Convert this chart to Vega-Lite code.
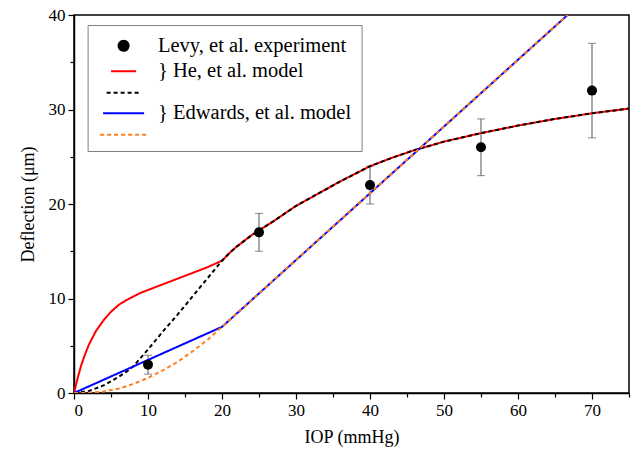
{
  "$schema": "https://vega.github.io/schema/vega-lite/v6.json",
  "autosize": "none",
  "width": 555,
  "height": 378,
  "padding": {"left": 74, "top": 15, "right": 9, "bottom": 57},
  "background": "white",
  "config": {
    "view": {"stroke": "black", "strokeWidth": 1.5},
    "font": "Times New Roman, Liberation Serif, DejaVu Serif, serif",
    "axis": {
      "domainColor": "black", "domainWidth": 1.5, "tickColor": "black", "tickWidth": 1.2,
      "labelFont": "Times New Roman, Liberation Serif, DejaVu Serif, serif", "labelFontSize": 17, "labelColor": "black",
      "titleFont": "Times New Roman, Liberation Serif, DejaVu Serif, serif", "titleFontSize": 18, "titleFontWeight": "normal", "titleColor": "black",
      "grid": false
    },
    "style": {"guide-label": {"font": "Times New Roman, Liberation Serif, DejaVu Serif, serif"}, "guide-title": {"font": "Times New Roman, Liberation Serif, DejaVu Serif, serif"}}
  },
  "datasets": {
    "lines": [
      {"s": "He_solid", "x": 0, "y": 0}, {"s": "He_solid", "x": 0.5, "y": 1.6}, {"s": "He_solid", "x": 1, "y": 3.0},
      {"s": "He_solid", "x": 1.5, "y": 4.1}, {"s": "He_solid", "x": 2, "y": 5.1}, {"s": "He_solid", "x": 3, "y": 6.6},
      {"s": "He_solid", "x": 4, "y": 7.7}, {"s": "He_solid", "x": 5, "y": 8.6}, {"s": "He_solid", "x": 6, "y": 9.3},
      {"s": "He_solid", "x": 7, "y": 9.8}, {"s": "He_solid", "x": 8, "y": 10.2}, {"s": "He_solid", "x": 9, "y": 10.6},
      {"s": "He_solid", "x": 10, "y": 10.9}, {"s": "He_solid", "x": 11, "y": 11.2}, {"s": "He_solid", "x": 12, "y": 11.5},
      {"s": "He_solid", "x": 14, "y": 12.1}, {"s": "He_solid", "x": 16, "y": 12.7}, {"s": "He_solid", "x": 18, "y": 13.3},
      {"s": "He_solid", "x": 20, "y": 14.0}, {"s": "He_solid", "x": 21, "y": 14.8}, {"s": "He_solid", "x": 22, "y": 15.5},
      {"s": "He_solid", "x": 23, "y": 16.1}, {"s": "He_solid", "x": 24, "y": 16.7}, {"s": "He_solid", "x": 25, "y": 17.2},
      {"s": "He_solid", "x": 27, "y": 18.2}, {"s": "He_solid", "x": 30, "y": 19.8}, {"s": "He_solid", "x": 33, "y": 21.1},
      {"s": "He_solid", "x": 36, "y": 22.4}, {"s": "He_solid", "x": 40, "y": 24.0}, {"s": "He_solid", "x": 43, "y": 24.9},
      {"s": "He_solid", "x": 46, "y": 25.7}, {"s": "He_solid", "x": 50, "y": 26.6}, {"s": "He_solid", "x": 55, "y": 27.5},
      {"s": "He_solid", "x": 60, "y": 28.3}, {"s": "He_solid", "x": 65, "y": 29.0}, {"s": "He_solid", "x": 70, "y": 29.6},
      {"s": "He_solid", "x": 75, "y": 30.1},
      {"s": "He_dashed", "x": 0, "y": 0}, {"s": "He_dashed", "x": 2, "y": 0.2}, {"s": "He_dashed", "x": 4, "y": 0.8},
      {"s": "He_dashed", "x": 6, "y": 1.7}, {"s": "He_dashed", "x": 7, "y": 2.2}, {"s": "He_dashed", "x": 8, "y": 2.8},
      {"s": "He_dashed", "x": 10, "y": 4.6}, {"s": "He_dashed", "x": 12, "y": 6.5}, {"s": "He_dashed", "x": 14, "y": 8.3},
      {"s": "He_dashed", "x": 16, "y": 10.2}, {"s": "He_dashed", "x": 18, "y": 12.1}, {"s": "He_dashed", "x": 20, "y": 14.0},
      {"s": "He_dashed", "x": 21, "y": 14.8}, {"s": "He_dashed", "x": 22, "y": 15.5}, {"s": "He_dashed", "x": 23, "y": 16.1},
      {"s": "He_dashed", "x": 24, "y": 16.7}, {"s": "He_dashed", "x": 25, "y": 17.2}, {"s": "He_dashed", "x": 27, "y": 18.2},
      {"s": "He_dashed", "x": 30, "y": 19.8}, {"s": "He_dashed", "x": 33, "y": 21.1}, {"s": "He_dashed", "x": 36, "y": 22.4},
      {"s": "He_dashed", "x": 40, "y": 24.0}, {"s": "He_dashed", "x": 43, "y": 24.9}, {"s": "He_dashed", "x": 46, "y": 25.7},
      {"s": "He_dashed", "x": 50, "y": 26.6}, {"s": "He_dashed", "x": 55, "y": 27.5}, {"s": "He_dashed", "x": 60, "y": 28.3},
      {"s": "He_dashed", "x": 65, "y": 29.0}, {"s": "He_dashed", "x": 70, "y": 29.6}, {"s": "He_dashed", "x": 75, "y": 30.1},
      {"s": "Ed_solid", "x": 0, "y": 0}, {"s": "Ed_solid", "x": 20, "y": 7.0}, {"s": "Ed_solid", "x": 66.7, "y": 40},
      {"s": "Ed_dashed", "x": 0, "y": 0}, {"s": "Ed_dashed", "x": 2, "y": 0.02}, {"s": "Ed_dashed", "x": 4, "y": 0.15},
      {"s": "Ed_dashed", "x": 6, "y": 0.45}, {"s": "Ed_dashed", "x": 8, "y": 0.95}, {"s": "Ed_dashed", "x": 10, "y": 1.6},
      {"s": "Ed_dashed", "x": 12, "y": 2.4}, {"s": "Ed_dashed", "x": 14, "y": 3.3}, {"s": "Ed_dashed", "x": 16, "y": 4.4},
      {"s": "Ed_dashed", "x": 18, "y": 5.6}, {"s": "Ed_dashed", "x": 20, "y": 7.0}, {"s": "Ed_dashed", "x": 66.7, "y": 40}
    ],
    "levy": [
      {"s": "Levy", "x": 10, "y": 3, "lo": 2, "hi": 4},
      {"s": "Levy", "x": 25, "y": 17, "lo": 15, "hi": 19},
      {"s": "Levy", "x": 40, "y": 22, "lo": 20, "hi": 24},
      {"s": "Levy", "x": 55, "y": 26, "lo": 23, "hi": 29},
      {"s": "Levy", "x": 70, "y": 32, "lo": 27, "hi": 37}
    ]
  },
  "resolve": {"axis": {"x": "independent", "y": "independent"}},
  "layer": [
    {
      "data": {"name": "levy"},
      "mark": {"type": "errorbar", "ticks": {"size": 8}, "color": "#555555", "thickness": 1},
      "encoding": {
        "x": {"field": "x", "type": "quantitative", "scale": {"domain": [0, 75], "nice": false}, "axis": null},
        "y": {"field": "lo", "type": "quantitative", "scale": {"domain": [0, 40], "nice": false}, "axis": null},
        "y2": {"field": "hi"}
      }
    },
    {
      "data": {"name": "lines"},
      "mark": {"type": "line", "strokeWidth": 2, "clip": true},
      "encoding": {
        "x": {"field": "x", "type": "quantitative", "scale": {"domain": [0, 75], "nice": false}, "title": "IOP (mmHg)",
          "axis": {"orient": "bottom", "values": [0, 10, 20, 30, 40, 50, 60, 70], "tickSize": 6, "labelPadding": 3, "titlePadding": 10,
            "labelFont": "Times New Roman, Liberation Serif, DejaVu Serif, serif", "labelFontSize": 17,
            "titleFont": "Times New Roman, Liberation Serif, DejaVu Serif, serif", "titleFontSize": 18}},
        "y": {"field": "y", "type": "quantitative", "scale": {"domain": [0, 40], "nice": false}, "title": "Deflection (μm)",
          "axis": {"orient": "left", "values": [0, 10, 20, 30, 40], "tickSize": 6, "labelPadding": 3, "titlePadding": 11,
            "labelFont": "Times New Roman, Liberation Serif, DejaVu Serif, serif", "labelFontSize": 17,
            "titleFont": "Times New Roman, Liberation Serif, DejaVu Serif, serif", "titleFontSize": 18}},
        "color": {"field": "s", "type": "nominal",
          "scale": {"domain": ["Levy", "He_solid", "He_dashed", "Ed_solid", "Ed_dashed"], "range": ["black", "#ff0000", "black", "#0000ff", "#ff8020"]},
          "legend": {
            "title": "\u00a0", "titleFontSize": 1, "titlePadding": 3.6,
            "orient": "none", "legendX": 13.6, "legendY": 10, "columns": 1,
            "padding": 10.15, "rowPadding": 4.5, "clipHeight": 12,
            "strokeColor": "#808080", "fillColor": "white",
            "symbolStrokeWidth": 2, "symbolOffset": 1.35, "labelOffset": 9.9, "labelLimit": 400,
            "labelFont": "Times New Roman, Liberation Serif, DejaVu Serif, serif", "labelFontSize": 20.5, "labelColor": "black",
            "labelExpr": "datum.value == 'Levy' ? 'Levy, et al. experiment' : datum.value == 'He_solid' ? '} He, et al. model' : datum.value == 'Ed_solid' ? '} Edwards, et al. model' : '\u00a0'",
            "encoding": {
              "symbols": {
                "size": {"condition": {"test": "datum.value == 'Levy'", "value": 100}, "value": 1444}
              },
              "labels": {
                "fontSize": {"condition": {"test": "datum.value == 'He_dashed' || datum.value == 'Ed_dashed'", "value": 1}, "value": 20.5}
              }
            }
          }},
        "strokeDash": {"field": "s", "type": "nominal",
          "scale": {"domain": ["Levy", "He_solid", "He_dashed", "Ed_solid", "Ed_dashed"], "range": [[1, 0], [1, 0], [4, 3], [1, 0], [4, 3]]}}
      }
    },
    {
      "data": {"name": "levy"},
      "mark": {"type": "point", "filled": true, "opacity": 1},
      "encoding": {
        "x": {"field": "x", "type": "quantitative", "scale": {"domain": [0, 75], "nice": false},
          "axis": {"orient": "bottom", "values": [5, 15, 25, 35, 45, 55, 65, 75], "tickSize": 4, "labels": false, "domain": false, "title": null}},
        "y": {"field": "y", "type": "quantitative", "scale": {"domain": [0, 40], "nice": false},
          "axis": {"orient": "left", "values": [5, 15, 25, 35], "tickSize": 4, "labels": false, "domain": false, "title": null}},
        "color": {"field": "s", "type": "nominal",
          "scale": {"domain": ["Levy", "He_solid", "He_dashed", "Ed_solid", "Ed_dashed"], "range": ["black", "#ff0000", "black", "#0000ff", "#ff8020"]}},
        "shape": {"field": "s", "type": "nominal",
          "scale": {"domain": ["Levy", "He_solid", "He_dashed", "Ed_solid", "Ed_dashed"], "range": ["circle", "stroke", "stroke", "stroke", "stroke"]}},
        "size": {"field": "s", "type": "nominal",
          "scale": {"domain": ["Levy", "He_solid", "He_dashed", "Ed_solid", "Ed_dashed"], "range": [100, 2209, 2209, 2209, 2209]}}
      }
    }
  ]
}
